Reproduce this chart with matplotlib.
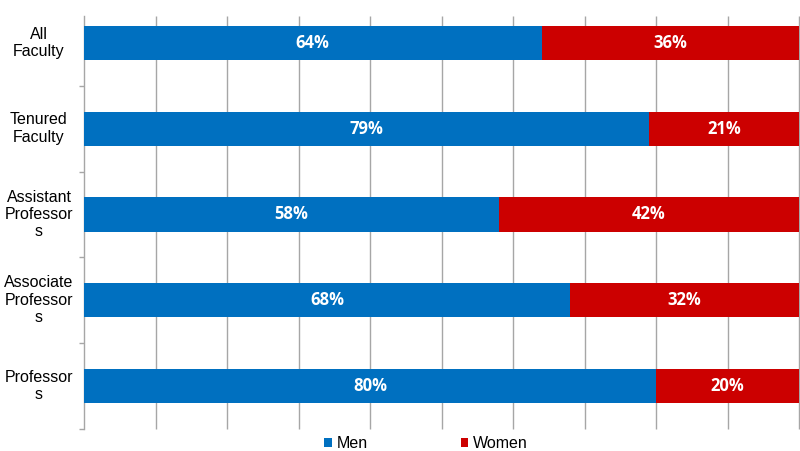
import matplotlib
matplotlib.use("Agg")
import matplotlib.pyplot as plt
from matplotlib.patches import Patch
from matplotlib.transforms import blended_transform_factory
import numpy as np

categories = ["All\nFaculty", "Tenured\nFaculty", "Assistant\nProfessor\ns",
              "Associate\nProfessor\ns", "Professor\ns"]
men = [64, 79, 58, 68, 80]
women = [36, 21, 42, 32, 20]
series_names = ["Men", "Women"]
colors = ["#0070C0", "#CC0000"]
grid_ticks = [10, 20, 30, 40, 50, 60, 70, 80, 90, 100]

W, H = 800, 451
fig = plt.figure(figsize=(W / 100, H / 100), dpi=100)
ax = fig.add_axes([84 / W, 1 - 429 / H, (799 - 84) / W, (429 - 16) / H])

y = np.arange(len(categories))
bh = 0.4
ax.barh(y, men, height=bh, color=colors[0], zorder=3)
ax.barh(y, women, left=men, height=bh, color=colors[1], zorder=3)

for i in range(len(categories)):
    ax.text(men[i] / 2, y[i], f"{men[i]}%", ha="center", va="center",
            color="white", fontsize=12, fontweight="bold", family="Open Sans", zorder=4)
    ax.text(men[i] + women[i] / 2, y[i], f"{women[i]}%", ha="center", va="center",
            color="white", fontsize=12, fontweight="bold", family="Open Sans", zorder=4)

top = -0.5 + 16 / 85.75
ax.set_xlim(0, 100)
ax.set_ylim(len(categories) - 0.5, top)

grid_color = "#A6A6A6"
ax.vlines(grid_ticks, len(categories) - 0.5, top, colors=grid_color,
          linewidth=1, zorder=1, clip_on=False)

for s in ["top", "right", "bottom"]:
    ax.spines[s].set_visible(False)
ax.spines["left"].set_color(grid_color)
ax.spines["left"].set_linewidth(1)

ax.set_xticks([])
ax.set_yticks(np.arange(len(categories)) + 0.5)
ax.set_yticklabels([])
ax.tick_params(axis="y", direction="out", length=3.5, color=grid_color, width=1)

trans = blended_transform_factory(fig.transFigure, ax.transData)
for i, c in enumerate(categories):
    ax.text(39 / W, y[i], c, transform=trans,
            ha="center", va="center", multialignment="center", fontsize=11.5,
            family="Liberation Sans", linespacing=1.2)

handles = [Patch(facecolor=colors[0]), Patch(facecolor=colors[1])]
fig.legend(handles, series_names, loc="center", bbox_to_anchor=(426 / W, 1 - 444 / H),
           ncol=2, frameon=False, prop={"family": "Liberation Sans", "size": 11.5},
           handlelength=0.5, handleheight=0.5, handletextpad=0.3, columnspacing=5.8,
           borderpad=0, borderaxespad=0)

fig.savefig("out.png", dpi=100)
